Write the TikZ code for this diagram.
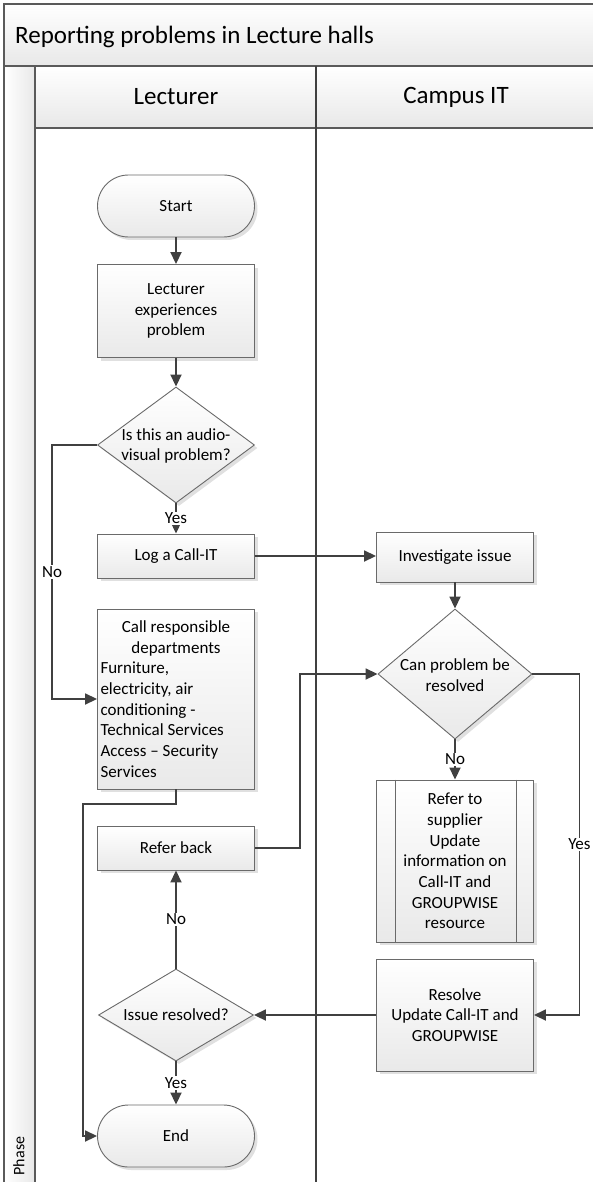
\documentclass[tikz,border=0pt]{standalone}
\usepackage{fontspec}
\setmainfont{Carlito}
\usetikzlibrary{arrows.meta,shapes.geometric,shadows,calc}
\definecolor{lineC}{HTML}{404040}
\definecolor{borderC}{HTML}{6A6A6A}
\definecolor{frameC}{HTML}{5A5A5A}
\definecolor{fillB}{HTML}{E9E9E9}
\definecolor{bandB}{HTML}{E8E8E8}
\begin{document}
\begin{tikzpicture}[x=1pt,y=-1pt,
  txt/.style={font=\fontsize{17}{20.7}\selectfont, text=black,
    execute at begin node={\spaceskip=3.9pt\relax}},
  big/.style={font=\fontsize{25}{30}\selectfont, text=black},
  shp/.style={draw=borderC, line width=0.9pt, top color=white, bottom color=fillB,
    drop shadow={shadow xshift=3pt, shadow yshift=-3pt, fill=black, opacity=0.12}},
  box/.style={shp, rectangle, minimum width=157pt, txt, align=center, inner sep=2pt},
  term/.style={box, rounded corners=31pt, minimum height=62pt},
  dia/.style={shp, diamond, inner sep=0pt},
  conn/.style={draw=lineC, line width=1.8pt, -{Triangle[length=12pt,width=11pt]}},
  lab/.style={txt, fill=white, inner sep=1pt},
  frame/.style={draw=frameC, line width=1.2pt}
]
\useasboundingbox (0,0) rectangle (593,1182);
% ---- pool structure ----
\shade[top color=white, bottom color=bandB] (4,4) rectangle (600,66);
\shade[left color=white, right color=bandB] (4,66) rectangle (35,1190);
\shade[top color=white, bottom color=bandB] (35,66) rectangle (600,128);
\draw[frame] (600,4) -- (4,4) -- (4,1190);
\draw[frame] (4,66) -- (600,66);
\draw[frame] (35,66) -- (35,1190);
\draw[frame] (35,128) -- (600,128);
\draw[draw=lineC, line width=1.4pt] (316,66) -- (316,1190);

\node[big, anchor=west, inner sep=0pt] (title) at (15,37) {Reporting problems in Lecture halls};
\node[big] (lh) at (176,97) {Lecturer};
\node[big] (ch) at (456,97) {Campus IT};
\node[txt, font=\fontsize{16}{19}\selectfont, rotate=90] (phase) at (19,1156) {Phase};

% ---- Lecturer lane ----
\node[term] (start) at (176,206) {Start};
\node[box, minimum height=93pt, text width=150pt] (exp) at (176,311) {Lecturer\\experiences\\problem};
\node[dia, minimum width=157pt, minimum height=116pt] (av) at (176,445) {};
\node[txt, align=center] (avT) at (176,446) {Is this an audio-\\visual problem?};
\node[box, minimum height=44pt] (log) at (176,556) {Log a Call-IT};
\node[box, minimum height=180pt, text width=151pt, align=left, inner sep=3pt] (call) at (176,699)
  {\centering Call responsible\\departments\par\raggedright Furniture,\\electricity, air\\conditioning -\\Technical Services\\Access – Security\\Services};
\node[box, minimum height=44pt] (back) at (176,848) {Refer back};
\node[dia, minimum width=155pt, minimum height=92pt] (res) at (176,1015) {};
\node[txt] (resT) at (176,1015) {Issue resolved?};
\node[term] (end) at (176,1136) {End};

% ---- Campus IT lane ----
\node[box, minimum height=50pt] (inv) at (455,557) {Investigate issue};
\node[dia, minimum width=154pt, minimum height=130pt] (can) at (455,674) {};
\node[txt, align=center] (canT) at (455,675) {Can problem be\\resolved};
\node[box, minimum height=162pt, text width=112pt] (sup) at (455,861)
  {Refer to\\supplier\\Update\\information on\\Call-IT and\\GROUPWISE\\resource};
\draw[draw=borderC, line width=0.9pt] ([xshift=19pt]sup.north west) -- ([xshift=19pt]sup.south west);
\draw[draw=borderC, line width=0.9pt] ([xshift=-18pt]sup.north east) -- ([xshift=-18pt]sup.south east);
\node[box, minimum height=112pt] (fix) at (455,1015) {Resolve\\Update Call-IT and\\GROUPWISE};

% ---- connectors ----
\coordinate (c1) at (83,804);
\draw[conn] (start) -- (exp);
\draw[conn] (exp) -- (av);
\draw[conn] (av) -- node[lab]{Yes} (log);
\draw[conn] (av.west) -- ++(-45,0) |- node[lab, pos=0.25]{No} (call.west);
\draw[conn] (log.east) -- (inv.west |- log.east);
\draw[conn] (inv) -- (can);
\draw[conn] (can) -- node[lab]{No} (sup);
\draw[conn] (can.east) -- ++(47,0) |- node[lab, pos=0.25]{Yes} (fix.east);
\draw[conn] (fix.west) -- (res.east);
\draw[conn] (res) -- node[lab]{No} (back);
\draw[conn] (res) -- node[lab]{Yes} (end);
\draw[conn] (back.east) -- ++(45,0) |- (can.west);
\draw[conn] (call.south) |- (c1) |- (end.west);
\end{tikzpicture}
\end{document}
